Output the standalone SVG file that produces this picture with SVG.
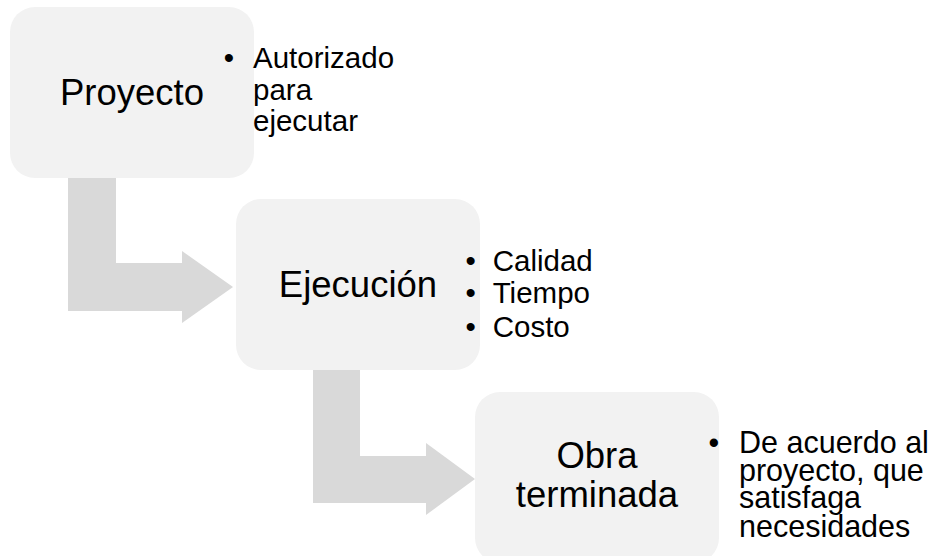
<svg xmlns="http://www.w3.org/2000/svg" width="940" height="556" viewBox="0 0 940 556">
<style>
.box{fill:#f2f2f2}
.arr{fill:#d9d9d9}
.t{font-family:"Liberation Sans",Arial,sans-serif;fill:#000}
.big{font-size:36.5px;text-anchor:middle}
.sm{font-size:29.5px}
.sm2{font-size:30.5px}
</style>
<rect width="940" height="556" fill="#ffffff"/>
<g id="connectors">
<polygon class="arr" points="68,178 116,178 116,263 182,263 182,251 233,287 182,323 182,311 68,311"/>
<polygon class="arr" points="313,370 360,370 360,456 426,456 426,443 475,479 426,515 426,503 313,503"/>
</g>
<g id="proyecto">
<rect class="box" x="10" y="7" width="244" height="171" rx="25"/>
<text class="t big" x="132" y="105">Proyecto</text>
<text class="t sm" x="223.8" y="68">•</text>
<text class="t sm" x="253" y="68">Autorizado</text>
<text class="t sm" x="253" y="99.5">para</text>
<text class="t sm" x="253" y="131">ejecutar</text>
</g>
<g id="ejecucion">
<rect class="box" x="236" y="199" width="244" height="171" rx="25"/>
<text class="t big" x="358" y="297">Ejecución</text>
<text class="t sm" x="465.5" y="270.7">•</text>
<text class="t sm" x="492.7" y="270.7">Calidad</text>
<text class="t sm" x="465.5" y="303.3">•</text>
<text class="t sm" x="492.7" y="303.3">Tiempo</text>
<text class="t sm" x="465.5" y="336.7">•</text>
<text class="t sm" x="492.7" y="336.7">Costo</text>
</g>
<g id="obra">
<rect class="box" x="475" y="392" width="244" height="171" rx="25"/>
<text class="t big" x="597" y="468.3">Obra</text>
<text class="t big" x="597" y="506.7">terminada</text>
<text class="t sm2" x="708.6" y="452.7">•</text>
<text class="t sm2" x="739" y="452.7">De acuerdo al</text>
<text class="t sm2" x="739" y="480.5">proyecto, que</text>
<text class="t sm2" x="739" y="508.3">satisfaga</text>
<text class="t sm2" x="739" y="536.5">necesidades</text>
</g>
</svg>
